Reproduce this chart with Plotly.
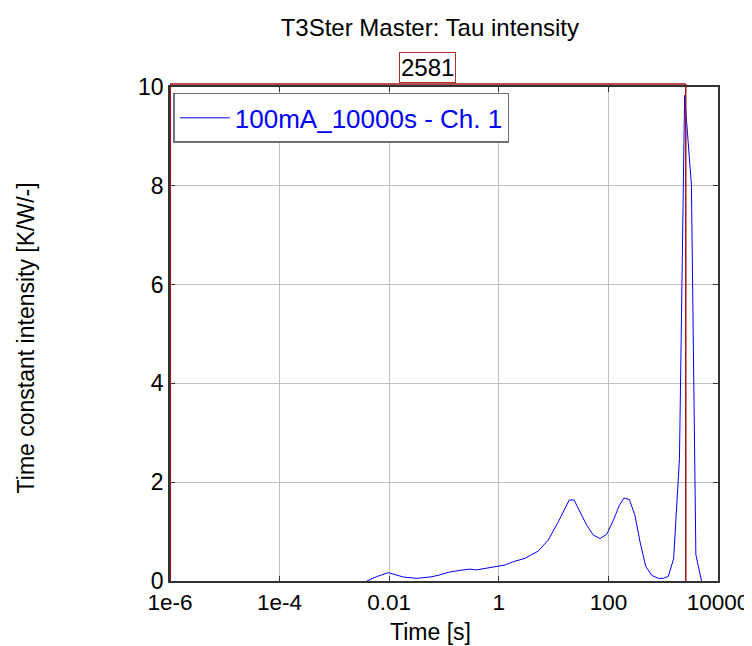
import math
import plotly.graph_objects as go

# ---- data ----
time_s = [0.0039, 0.0059, 0.0096, 0.0137, 0.0181, 0.0318, 0.0556, 0.0787, 0.120, 0.196,
          0.298, 0.395, 0.601, 0.98, 1.30, 1.84, 3.01, 5.26, 8.0, 12.2,
          16.1, 19.3, 23.6, 30.3, 40.2, 53.1, 70.3, 93.1, 123, 158,
          193, 241, 305, 378, 480, 617, 813, 1000, 1239, 1550,
          1982, 2460, 3273, 3945, 5000]
intensity = [0.0, 0.088, 0.169, 0.115, 0.081, 0.054, 0.081, 0.115, 0.175, 0.216,
             0.24, 0.225, 0.263, 0.304, 0.324, 0.391, 0.459, 0.607, 0.83, 1.2,
             1.47, 1.64, 1.64, 1.40, 1.13, 0.93, 0.86, 0.945, 1.228, 1.53,
             1.68, 1.65, 1.33, 0.79, 0.297, 0.115, 0.054, 0.054, 0.094, 0.45,
             2.48, 9.83, 8.02, 0.53, 0.0]
series_name = "100mA_10000s - Ch. 1"

cursor_left = 1e-6
cursor_right = 2581
cursor_label = "2581"

x_tickvals = [1e-6, 1e-4, 1e-2, 1, 100, 10000]
x_ticktext = ["1e-6", "1e-4", "0.01", "1", "100", "10000"]
y_tickvals = [0, 2, 4, 6, 8, 10]

FONT = "Liberation Sans, Arial, sans-serif"
RED = "#A31515"
BLUE = "#0000FF"
FS = 23

fig = go.Figure()
fig.add_trace(go.Scatter(x=time_s, y=intensity, mode="lines", name=series_name,
                         line=dict(color=BLUE, width=1)))

# cursor end markers
fig.add_trace(go.Scatter(x=[cursor_left, cursor_right], y=[10.06, 10.06], mode="markers",
                         marker=dict(symbol="square-open", size=5, color=RED, line=dict(width=1.2, color=RED)),
                         showlegend=False, cliponaxis=False, hoverinfo="skip"))

shapes = [
    dict(type="line", xref="x", yref="paper", x0=cursor_left, x1=cursor_left, y0=0, y1=1.006,
         line=dict(color=RED, width=2)),
    dict(type="line", xref="x", yref="paper", x0=cursor_right, x1=cursor_right, y0=0, y1=1.006,
         line=dict(color=RED, width=1.5)),
    dict(type="line", xref="x", yref="paper", x0=cursor_left, x1=cursor_right, y0=1.006, y1=1.006,
         line=dict(color=RED, width=1.5)),
]

annotations = [
    dict(text=cursor_label, xref="x", yref="paper",
         x=(math.log10(cursor_left) + math.log10(cursor_right)) / 2, y=1.04,
         xanchor="center", yanchor="middle", showarrow=False,
         font=dict(family=FONT, size=24, color="black"),
         bordercolor="#B03030", borderwidth=1, borderpad=1, bgcolor="white"),
    dict(text="Time [s]", xref="paper", yref="paper", x=0.4745, y=-0.103,
         xanchor="center", yanchor="middle", showarrow=False,
         font=dict(family=FONT, size=FS, color="black")),
    dict(text="Time constant intensity [K/W/-]", xref="paper", yref="paper", x=-0.262, y=0.492,
         xanchor="center", yanchor="middle", showarrow=False, textangle=-90,
         font=dict(family=FONT, size=FS, color="black")),
]

fig.update_layout(
    width=744, height=638,
    margin=dict(l=162, r=34, t=79, b=65),
    paper_bgcolor="white", plot_bgcolor="white",
    font=dict(family=FONT, size=FS, color="black"),
    title=dict(text="T3Ster Master: Tau intensity", xref="container", yref="container",
               x=0.567, xanchor="center", y=0.970, yanchor="middle",
               font=dict(family=FONT, size=24, color="black"),
               automargin=False),
    showlegend=True,
    legend=dict(x=0.006, y=0.988, xanchor="left", yanchor="top",
                bgcolor="white", bordercolor="#707070", borderwidth=1.5,
                font=dict(family=FONT, size=26, color=BLUE),
                itemwidth=50, tracegroupgap=0),
    shapes=shapes,
    annotations=annotations,
    xaxis=dict(type="log", range=[-6, 4], tickvals=x_tickvals, ticktext=x_ticktext,
               automargin=False,
               showgrid=True, gridcolor="#C0C0C0", gridwidth=1,
               showline=True, linecolor="#333333", linewidth=1.5, mirror="ticks",
               ticks="inside", ticklen=5, tickcolor="#333333",
               zeroline=False, tickfont=dict(family=FONT, size=22.5, color="black")),
    yaxis=dict(range=[0, 10], tickvals=y_tickvals,
               automargin=False,
               showgrid=True, gridcolor="#C0C0C0", gridwidth=1,
               showline=True, linecolor="#333333", linewidth=1.5, mirror="ticks",
               ticks="inside", ticklen=5, tickcolor="#333333",
               zeroline=False, tickfont=dict(family=FONT, size=FS, color="black")),
)

fig.write_html("out.html")
